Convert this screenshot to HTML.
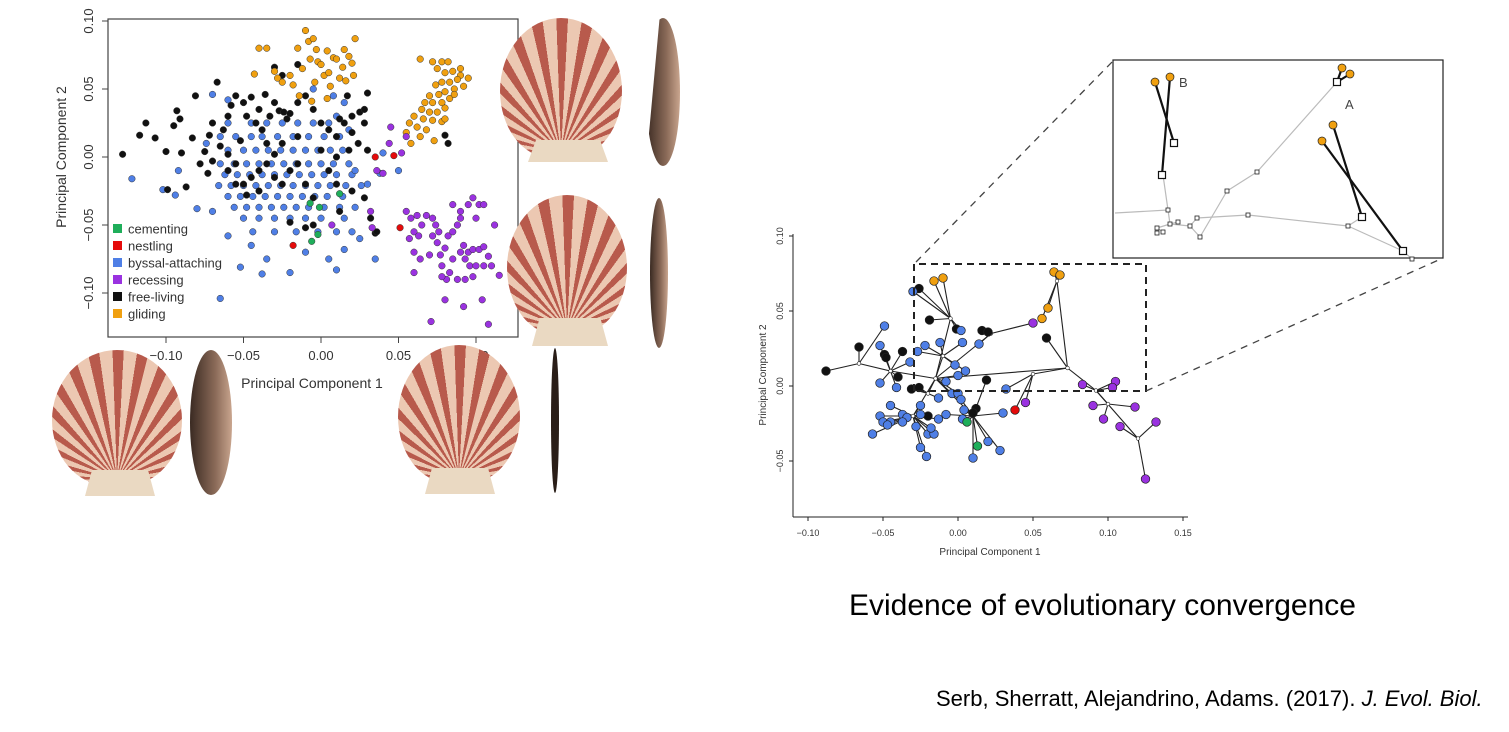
<!DOCTYPE html>
<html><head><meta charset="utf-8">
<style>
body{margin:0;background:#fff;width:1509px;height:732px;overflow:hidden;position:relative;font-family:"Liberation Sans",sans-serif}
.shell{position:absolute;border-radius:50% 50% 42% 42% / 52% 52% 48% 48%;background:repeating-conic-gradient(from -90deg at 50% 96%,#b85a4c 0deg 5deg,#ecc8b2 5deg 11deg)}
.hinge{position:absolute;background:#ead9c2;clip-path:polygon(10% 0,90% 0,100% 100%,0 100%)}
.side{position:absolute;border-radius:50%;background:linear-gradient(90deg,#3a2a22,#8a6a58 60%,#c9a58e)}
svg{position:absolute;left:0;top:0}
</style></head><body>
<svg id="c" width="1509" height="732"></svg>

<div class="shell" style="left:500px;top:18px;width:122px;height:140px"></div>
<div class="hinge" style="left:528px;top:140px;width:80px;height:22px"></div>
<div class="side" style="left:646px;top:18px;width:34px;height:148px;clip-path:polygon(40% 0,100% 0,100% 100%,0 100%)"></div>
<div class="shell" style="left:507px;top:195px;width:120px;height:140px"></div>
<div class="hinge" style="left:532px;top:318px;width:76px;height:28px"></div>
<div class="side" style="left:650px;top:198px;width:18px;height:150px"></div>
<div class="shell" style="left:52px;top:350px;width:130px;height:135px"></div>
<div class="hinge" style="left:85px;top:470px;width:70px;height:26px"></div>
<div class="side" style="left:190px;top:350px;width:42px;height:145px"></div>
<div class="shell" style="left:398px;top:345px;width:122px;height:138px"></div>
<div class="hinge" style="left:425px;top:468px;width:70px;height:26px"></div>
<div class="side" style="left:551px;top:348px;width:8px;height:145px;background:#2a1e18"></div>

<div style="position:absolute;left:849px;top:589px;font-size:30px;color:#000;white-space:nowrap">Evidence of evolutionary convergence</div>
<div style="position:absolute;left:936px;top:686px;font-size:22px;color:#000;white-space:nowrap">Serb, Sherratt, Alejandrino, Adams. (2017). <i>J. Evol. Biol.</i></div>

<script>
// ---------- LEFT PLOT DATA ----------
const lTicksX=[-0.10,-0.05,0.00,0.05,0.10];
const lTickLabelsX=["\u22120.10","\u22120.05","0.00","0.05","0.10"];
const lTicksY=[-0.10,-0.05,0.00,0.05,0.10];
const lTickLabelsY=["\u22120.10","\u22120.05","0.00","0.05","0.10"];
const legendLabels=["cementing","nestling","byssal-attaching","recessing","free-living","gliding"];
const gliding=[[-0.043,0.061],[-0.040,0.080],[-0.035,0.080],[-0.030,0.063],[-0.028,0.058],[-0.025,0.055],[-0.020,0.060],[-0.018,0.053],[-0.015,0.080],[-0.010,0.093],[-0.008,0.085],[-0.007,0.072],[-0.005,0.087],[-0.003,0.079],[-0.002,0.070],[0.000,0.068],[0.002,0.060],[0.004,0.078],[0.005,0.062],[0.008,0.073],[0.010,0.072],[0.012,0.058],[0.014,0.066],[0.016,0.056],[0.018,0.074],[0.020,0.069],[0.022,0.087],[0.021,0.060],[-0.012,0.065],[-0.004,0.055],[0.006,0.052],[0.015,0.079],[-0.014,0.045],[0.004,0.043],[-0.006,0.041],
[0.064,0.072],[0.072,0.070],[0.078,0.070],[0.082,0.070],[0.075,0.065],[0.080,0.062],[0.085,0.063],[0.090,0.060],[0.095,0.058],[0.088,0.057],[0.083,0.055],[0.078,0.055],[0.074,0.053],[0.086,0.050],[0.092,0.052],[0.080,0.048],[0.076,0.046],[0.070,0.045],[0.067,0.040],[0.072,0.040],[0.078,0.040],[0.083,0.043],[0.065,0.035],[0.070,0.033],[0.075,0.033],[0.080,0.036],[0.060,0.030],[0.066,0.028],[0.072,0.027],[0.057,0.025],[0.062,0.022],[0.068,0.020],[0.078,0.026],[0.055,0.018],[0.064,0.015],[0.073,0.012],[0.080,0.028],[0.058,0.010],[0.086,0.046],[0.090,0.065]];
const recessing=[[0.045,0.022],[0.044,0.010],[0.055,0.015],[0.052,0.003],[0.040,-0.012],[0.036,-0.010],[0.032,-0.040],[0.033,-0.052],[0.007,-0.050],[0.055,-0.040],[0.058,-0.045],[0.062,-0.043],[0.060,-0.055],[0.057,-0.060],[0.063,-0.058],[0.065,-0.050],[0.060,-0.070],[0.064,-0.075],[0.060,-0.085],[0.068,-0.043],[0.072,-0.045],[0.074,-0.050],[0.076,-0.055],[0.072,-0.058],[0.075,-0.063],[0.070,-0.072],[0.077,-0.072],[0.080,-0.067],[0.082,-0.058],[0.085,-0.055],[0.088,-0.050],[0.090,-0.045],[0.085,-0.035],[0.090,-0.040],[0.095,-0.035],[0.098,-0.030],[0.102,-0.035],[0.100,-0.045],[0.092,-0.065],[0.090,-0.070],[0.095,-0.070],[0.098,-0.068],[0.102,-0.068],[0.105,-0.066],[0.093,-0.075],[0.096,-0.080],[0.098,-0.088],[0.085,-0.075],[0.083,-0.085],[0.081,-0.090],[0.088,-0.090],[0.093,-0.090],[0.100,-0.080],[0.105,-0.080],[0.108,-0.073],[0.110,-0.080],[0.112,-0.050],[0.115,-0.087],[0.105,-0.035],[0.078,-0.080],[0.078,-0.088],[0.080,-0.105],[0.092,-0.110],[0.104,-0.105],[0.071,-0.121],[0.108,-0.123]];
const nestling=[[0.035,0.000],[0.047,0.001],[0.051,-0.052],[-0.018,-0.065]];
const cementing=[[-0.002,-0.057],[-0.001,-0.037],[0.012,-0.027],[-0.006,-0.062],[-0.007,-0.034]];
const freeLiving=[[-0.128,0.002],[-0.117,0.016],[-0.113,0.025],[-0.107,0.014],[-0.100,0.004],[-0.099,-0.024],[-0.095,0.023],[-0.093,0.034],[-0.091,0.028],[-0.090,0.003],[-0.087,-0.022],[-0.081,0.045],[-0.083,0.014],[-0.075,0.004],[-0.072,0.016],[-0.070,0.025],[-0.067,0.055],[-0.063,0.020],[-0.060,0.030],[-0.058,0.038],[-0.055,0.045],[-0.052,0.012],[-0.050,0.040],[-0.048,0.030],[-0.045,0.044],[-0.042,0.025],[-0.040,0.035],[-0.038,0.020],[-0.036,0.046],[-0.033,0.030],[-0.030,0.040],[-0.027,0.034],[-0.024,0.033],[-0.022,0.028],[-0.020,0.032],[-0.015,0.040],[-0.010,0.045],[-0.005,0.035],[0.000,0.025],[0.005,0.020],[0.010,0.015],[0.015,0.025],[0.020,0.030],[0.025,0.033],[0.028,0.025],[0.024,0.010],[0.020,0.018],[0.012,0.028],[0.017,0.045],[0.030,0.047],[0.028,0.035],[0.018,0.005],[0.010,0.000],[0.005,-0.010],[0.010,-0.020],[0.020,-0.025],[0.028,-0.030],[0.032,-0.045],[0.035,-0.056],[0.036,-0.055],[-0.020,-0.048],[-0.010,-0.052],[-0.025,0.060],[-0.030,0.066],[-0.015,0.068],[-0.060,-0.010],[-0.055,-0.005],[-0.050,-0.020],[-0.045,-0.015],[-0.040,-0.010],[-0.035,-0.005],[-0.030,-0.015],[-0.025,-0.020],[-0.020,-0.010],[-0.015,-0.005],[-0.010,-0.020],[-0.005,-0.030],[-0.070,-0.003],[-0.065,0.008],[-0.060,0.002],[-0.055,-0.020],[-0.048,-0.028],[-0.040,-0.025],[-0.035,0.010],[-0.030,0.002],[-0.025,0.010],[-0.015,0.015],[0.000,0.005],[0.082,0.010],[0.080,0.016],[-0.078,-0.005],[-0.073,-0.012],[0.030,0.005],[0.012,-0.040],[-0.005,-0.050]];
const byssalOut=[[-0.122,-0.016],[-0.102,-0.024],[-0.094,-0.028],[-0.092,-0.010],[-0.065,-0.104],[-0.052,-0.081],[-0.038,-0.086],[-0.020,-0.085],[0.010,-0.083],[0.005,-0.075],[0.025,-0.060],[0.035,-0.075],[0.050,-0.010],[0.040,0.003],[-0.070,0.046],[-0.060,0.042],[-0.074,0.010],[-0.080,-0.038],[-0.070,-0.040],[-0.060,-0.058],[-0.045,-0.065],[-0.035,-0.075],[-0.010,-0.070],[0.015,-0.068],[0.020,-0.055],[0.030,-0.020],[0.038,-0.012],[0.022,-0.010],[0.015,0.040],[0.008,0.045],[-0.005,0.050],[0.010,0.030],[0.018,0.020]];
const byssalRowY=[0.025,0.015,0.005,-0.005,-0.013,-0.021,-0.029,-0.037,-0.045,-0.055];
const byssalRowX=[[-0.06,-0.045,-0.035,-0.025,-0.015,-0.005,0.005],
[-0.065,-0.055,-0.045,-0.038,-0.028,-0.018,-0.008,0.002,0.012],
[-0.06,-0.05,-0.042,-0.034,-0.026,-0.018,-0.01,-0.002,0.006,0.014],
[-0.065,-0.056,-0.048,-0.04,-0.032,-0.024,-0.016,-0.008,0,0.008,0.018],
[-0.062,-0.054,-0.046,-0.038,-0.03,-0.022,-0.014,-0.006,0.002,0.01,0.02],
[-0.066,-0.058,-0.05,-0.042,-0.034,-0.026,-0.018,-0.01,-0.002,0.006,0.016,0.026],
[-0.06,-0.052,-0.044,-0.036,-0.028,-0.02,-0.012,-0.004,0.004,0.014],
[-0.056,-0.048,-0.04,-0.032,-0.024,-0.016,-0.008,0.002,0.012,0.022],
[-0.05,-0.04,-0.03,-0.02,-0.01,0.0,0.015],
[-0.044,-0.03,-0.016,-0.002,0.01]];

// ---------- RIGHT PLOT DATA ----------
const rTicksX=[-0.10,-0.05,0.00,0.05,0.10,0.15];
const rTickLabelsX=["\u22120.10","\u22120.05","0.00","0.05","0.10","0.15"];
const rTicksY=[-0.05,0.00,0.05,0.10];
const rTickLabelsY=["\u22120.05","0.00","0.05","0.10"];
const tipX=[-0.088,-0.066,-0.049,-0.048,-0.037,-0.040,-0.026,-0.019,-0.001,0.016,0.020,0.059,0.019,0.012,0.010,-0.031,-0.026,-0.020,
-0.030,-0.049,-0.052,-0.032,-0.027,-0.022,-0.012,0.002,0.003,0.014,-0.002,0.005,0.000,-0.008,-0.052,-0.041,-0.045,-0.052,-0.050,-0.045,-0.037,-0.034,-0.037,-0.028,-0.025,-0.025,-0.020,-0.016,-0.018,-0.013,-0.008,-0.013,-0.004,0.000,0.002,0.004,0.003,0.020,0.028,0.010,-0.025,-0.021,-0.057,-0.047,0.030,0.032,
0.038,0.006,0.013,
-0.016,-0.010,0.064,0.068,0.060,0.056,
0.050,0.045,0.083,0.105,0.103,0.090,0.097,0.108,0.118,0.132,0.125];
const tipY=[0.010,0.026,0.021,0.019,0.023,0.006,0.065,0.044,0.038,0.037,0.036,0.032,0.004,-0.015,-0.018,-0.002,-0.001,-0.020,
0.063,0.040,0.027,0.016,0.023,0.027,0.029,0.037,0.029,0.028,0.014,0.010,0.007,0.003,0.002,-0.001,-0.013,-0.020,-0.024,-0.024,-0.019,-0.021,-0.024,-0.027,-0.013,-0.019,-0.032,-0.032,-0.028,-0.022,-0.019,-0.008,-0.005,-0.005,-0.009,-0.016,-0.022,-0.037,-0.043,-0.048,-0.041,-0.047,-0.032,-0.026,-0.018,-0.002,
-0.016,-0.024,-0.040,
0.070,0.072,0.076,0.074,0.052,0.045,
0.042,-0.011,0.001,0.003,-0.001,-0.013,-0.022,-0.027,-0.014,-0.024,-0.062];
const tipGroup=["k","k","k","k","k","k","k","k","k","k","k","k","k","k","k","k","k","k",
"b","b","b","b","b","b","b","b","b","b","b","b","b","b","b","b","b","b","b","b","b","b","b","b","b","b","b","b","b","b","b","b","b","b","b","b","b","b","b","b","b","b","b","b","b","b",
"r","g","g","o","o","o","o","o","o","p","p","p","p","p","p","p","p","p","p","p"];
const nodeX=[-0.015,-0.045,-0.066,0.022,0.073,0.066,0.092,0.120,0.100,-0.005,-0.030,0.010,-0.010,0.050,-0.020];
const nodeY=[0.005,0.010,0.015,0.035,0.012,0.070,-0.003,-0.035,-0.012,0.045,-0.020,-0.020,0.020,0.008,-0.005];
const nodeParent=[-1,0,1,0,0,4,4,6,6,0,0,0,0,4,0];

const C={b:"#4f7fe6",k:"#111111",o:"#f0a010",p:"#9a32e0",r:"#e50b0b",g:"#1fae5a"};
const svg=document.getElementById('c');
const NS="http://www.w3.org/2000/svg";
function mk(t,a,p){const e=document.createElementNS(NS,t);for(const k in a)e.setAttribute(k,a[k]);(p||svg).appendChild(e);return e;}

// ---- left axes ----
const lx=v=>321+v*1550, ly=v=>157-v*1360;
const gL=mk('g',{});


const frame=mk('rect',{x:108,y:19,width:410,height:318,fill:'none',stroke:'#444','stroke-width':1.2},gL);


lTicksX.forEach((v,i)=>{
  mk('line',{x1:lx(v),x2:lx(v),y1:337,y2:343,stroke:'#444'},gL);
  const t=mk('text',{x:lx(v),y:360,'font-size':13,'text-anchor':'middle',fill:'#333'},gL);t.textContent=lTickLabelsX[i];
  
  
});
lTicksY.forEach((v,i)=>{
  mk('line',{x1:102,x2:108,y1:ly(v),y2:ly(v),stroke:'#444'},gL);
  const t=mk('text',{x:0,y:0,'font-size':13,'text-anchor':'middle',fill:'#333',transform:`translate(93,${ly(v)}) rotate(-90)`},gL);t.textContent=lTickLabelsY[i];
  
  
});
let t1=mk('text',{x:312,y:388,'font-size':14,'text-anchor':'middle',fill:'#333'},gL);t1.textContent="Principal Component 1";


let t2=mk('text',{x:0,y:0,'font-size':14,'text-anchor':'middle',fill:'#333',transform:'translate(66,157) rotate(-90)'},gL);t2.textContent="Principal Component 2";



function dotL(p,col,name){const c=mk('circle',{cx:lx(p[0]),cy:ly(p[1]),r:3.3,fill:col,stroke:'#333','stroke-width':0.5},gL);
  
  }
byssalRowY.forEach((y,i)=>byssalRowX[i].forEach(x=>dotL([x,y],C.b,'byssal-point')));
byssalOut.forEach(p=>dotL(p,C.b,'byssal-point'));
freeLiving.forEach(p=>dotL(p,C.k,'free-living-point'));
gliding.forEach(p=>dotL(p,C.o,'gliding-point'));
recessing.forEach(p=>dotL(p,C.p,'recessing-point'));
nestling.forEach(p=>dotL(p,C.r,'nestling-point'));
cementing.forEach(p=>dotL(p,C.g,'cementing-point'));
const legCols=[C.g,C.r,C.b,C.p,C.k,C.o];
legendLabels.forEach((s,i)=>{
  const y=229+i*17;
  const r=mk('rect',{x:113,y:y-5,width:9,height:9,fill:legCols[i]},gL);
  
  
  const t=mk('text',{x:128,y:y+4.5,'font-size':13,fill:'#333'},gL);t.textContent=s;
  
  
});

// ---- right plot ----
const rx=v=>958+v*1500, ry=v=>386-v*1500;
const gR=mk('g',{});


mk('line',{x1:793,x2:793,y1:234,y2:517,stroke:'#222','stroke-width':1},gR);
mk('line',{x1:793,x2:1188,y1:517,y2:517,stroke:'#222','stroke-width':1},gR);
rTicksX.forEach((v,i)=>{
  mk('line',{x1:rx(v),x2:rx(v),y1:517,y2:521,stroke:'#222'},gR);
  const t=mk('text',{x:rx(v),y:536,'font-size':9,'text-anchor':'middle',fill:'#333'},gR);t.textContent=rTickLabelsX[i];
  
  
});
rTicksY.forEach((v,i)=>{
  mk('line',{x1:789,x2:793,y1:ry(v),y2:ry(v),stroke:'#222'},gR);
  const t=mk('text',{x:0,y:0,'font-size':9,'text-anchor':'middle',fill:'#333',transform:`translate(783,${ry(v)}) rotate(-90)`},gR);t.textContent=rTickLabelsY[i];
  
  
});
let t3=mk('text',{x:990,y:555,'font-size':10,'text-anchor':'middle',fill:'#333'},gR);t3.textContent="Principal Component 1";


let t4=mk('text',{x:0,y:0,'font-size':10,'text-anchor':'middle',fill:'#333',transform:'translate(766,375) rotate(-90)'},gR);t4.textContent="Principal Component 2";


nodeX.forEach((x,i)=>{const p=nodeParent[i];if(p<0)return;
  const l=mk('line',{x1:rx(x),y1:ry(nodeY[i]),x2:rx(nodeX[p]),y2:ry(nodeY[p]),stroke:'#222','stroke-width':1.1},gR);
  
  });
tipX.forEach((x,i)=>{let best=0,bd=1e9;nodeX.forEach((nx,j)=>{const d=(nx-x)**2+(nodeY[j]-tipY[i])**2;if(d<bd){bd=d;best=j;}});
  const l=mk('line',{x1:rx(x),y1:ry(tipY[i]),x2:rx(nodeX[best]),y2:ry(nodeY[best]),stroke:'#222','stroke-width':1.1},gR);
  
  });
nodeX.forEach((x,i)=>{const c=mk('circle',{cx:rx(x),cy:ry(nodeY[i]),r:1.8,fill:'#fff',stroke:'#222','stroke-width':0.6},gR);
  
  });
tipX.forEach((x,i)=>{const c=mk('circle',{cx:rx(x),cy:ry(tipY[i]),r:4.3,fill:C[tipGroup[i]],stroke:'#222','stroke-width':0.7},gR);
  
  });
const dz=mk('path',{d:'M914 391 V264 H1146 V391 Z',fill:'none',stroke:'#222','stroke-width':2,'stroke-dasharray':'7 5'},gR);


mk('line',{x1:916,y1:262,x2:1112,y2:62,stroke:'#444','stroke-width':1.3,'stroke-dasharray':'7 6'},gR);
mk('line',{x1:1146,y1:391,x2:1443,y2:258,stroke:'#444','stroke-width':1.3,'stroke-dasharray':'7 6'},gR);

// ---- inset ----
const gI=mk('g',{});


mk('rect',{x:1113,y:60,width:330,height:198,fill:'#fff',stroke:'#222','stroke-width':1.2},gI);
const grey=[[1115,213,1168,210],[1168,210,1163,175],[1168,210,1170,224],[1170,224,1157,228],[1170,224,1190,226],[1190,226,1200,237],[1190,226,1197,218],[1197,218,1248,215],[1248,215,1348,226],[1348,226,1403,251],[1403,251,1412,259],[1348,226,1362,217],[1200,237,1227,191],[1227,191,1257,172],[1257,172,1337,82],[1157,228,1163,232],[1170,224,1178,222]];
grey.forEach(s=>mk('line',{x1:s[0],y1:s[1],x2:s[2],y2:s[3],stroke:'#bbb','stroke-width':1.2},gI));
const thick=[[1155,82,1174,143],[1170,77,1162,175],[1342,68,1337,82],[1350,74,1337,82],[1333,125,1362,217],[1322,141,1403,251]];
thick.forEach(s=>mk('line',{x1:s[0],y1:s[1],x2:s[2],y2:s[3],stroke:'#111','stroke-width':2.2},gI));
[[1157,228],[1163,232],[1170,224],[1178,222],[1190,226],[1200,237],[1197,218],[1248,215],[1348,226],[1412,259],[1227,191],[1257,172],[1168,210],[1157,233]].forEach(p=>mk('rect',{x:p[0]-2,y:p[1]-2,width:4,height:4,fill:'#fff',stroke:'#222','stroke-width':0.8},gI));
[[1337,82],[1174,143],[1162,175],[1362,217],[1403,251]].forEach(p=>mk('rect',{x:p[0]-3.5,y:p[1]-3.5,width:7,height:7,fill:'#fff',stroke:'#111','stroke-width':1.2},gI));
[[1155,82],[1170,77],[1342,68],[1350,74],[1333,125],[1322,141]].forEach(p=>mk('circle',{cx:p[0],cy:p[1],r:4,fill:C.o,stroke:'#222','stroke-width':0.7},gI));
let ta=mk('text',{x:1179,y:87,'font-size':13,fill:'#444'},gI);ta.textContent="B";


let tb=mk('text',{x:1345,y:109,'font-size':13,fill:'#444'},gI);tb.textContent="A";


</script>
</body></html>
